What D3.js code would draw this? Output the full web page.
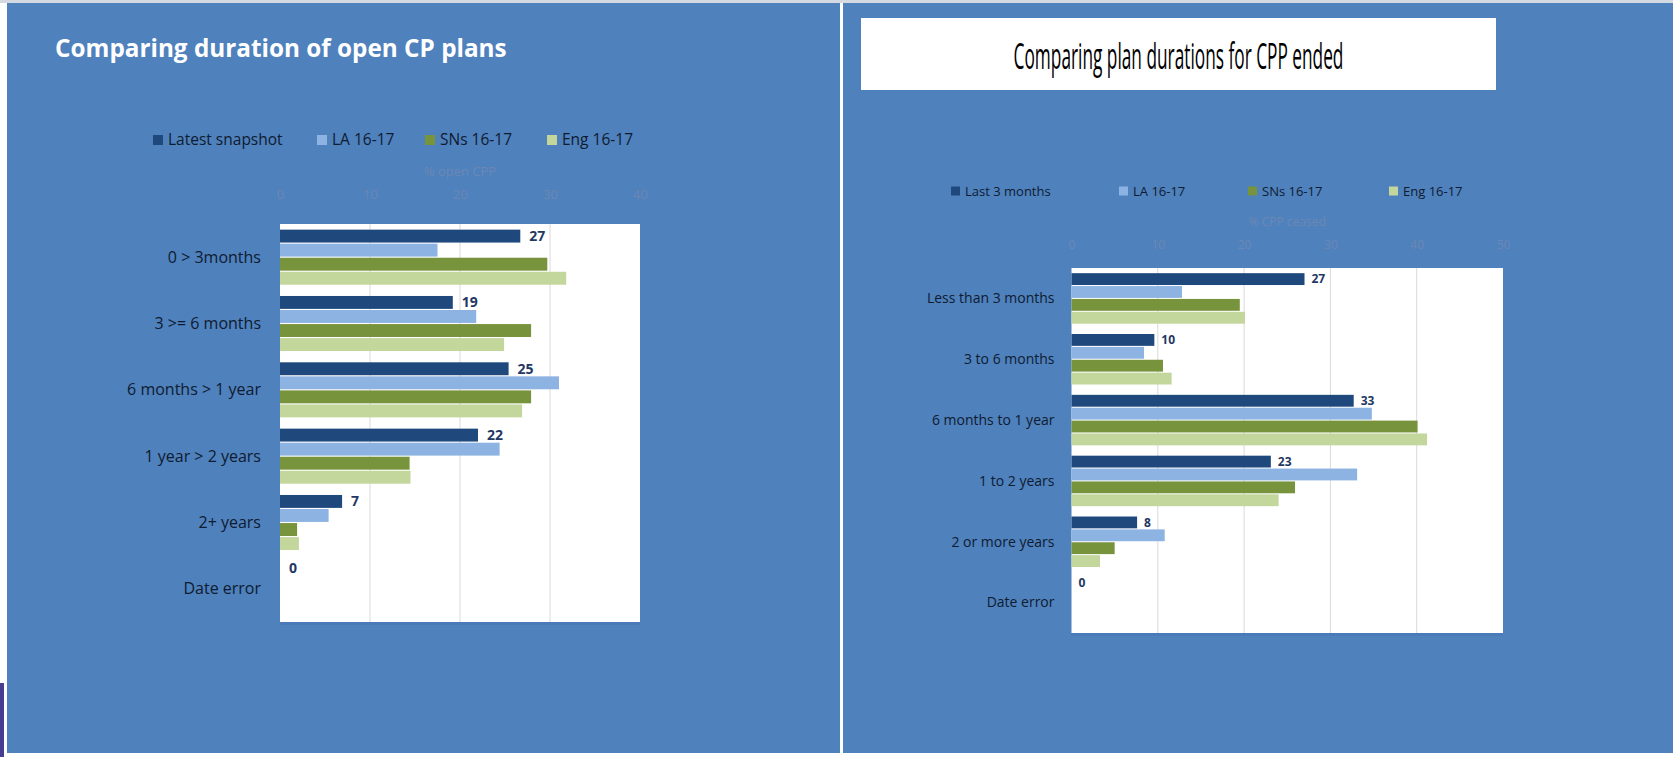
<!DOCTYPE html>
<html>
<head>
<meta charset="utf-8">
<script src="https://cdn.jsdelivr.net/npm/d3@7"></script>
<style>
  html, body { margin: 0; padding: 0; background: #ffffff; }
  svg { display: block; font-family: "Open Sans", "Noto Sans", sans-serif; }
</style>
</head>
<body>
<div id="chart"></div>
<script>
// ---- data ----
const seriesColors = ['#1f497d', '#8db3e2', '#77933c', '#c3d69b'];

// left chart: open CP plans
const openCategories = ['0 > 3months', '3 >= 6 months', '6 months > 1 year', '1 year > 2 years', '2+ years', 'Date error'];
const openSeries = ['Latest snapshot', 'LA 16-17', 'SNs 16-17', 'Eng 16-17'];
const openLatest = [26.7, 19.2, 25.4, 22.0, 6.9, 0];
const openLA = [17.5, 21.8, 31.0, 24.4, 5.4, 0];
const openSNs = [29.7, 27.9, 27.9, 14.4, 1.9, 0];
const openEng = [31.8, 24.9, 26.9, 14.5, 2.1, 0];
const openTicks = [0, 10, 20, 30, 40];

// right chart: CPP ended
const endedCategories = ['Less than 3 months', '3 to 6 months', '6 months to 1 year', '1 to 2 years', '2 or more years', 'Date error'];
const endedSeries = ['Last 3 months', 'LA 16-17', 'SNs 16-17', 'Eng 16-17'];
const endedLast3 = [27.0, 9.6, 32.7, 23.1, 7.6, 0];
const endedLA = [12.8, 8.4, 34.8, 33.1, 10.8, 0];
const endedSNs = [19.5, 10.6, 40.1, 25.9, 5.0, 0];
const endedEng = [20.1, 11.6, 41.2, 24.0, 3.3, 0];
const endedTicks = [0, 10, 20, 30, 40, 50];

const W = 1673, H = 757;
const panelBlue = '#4f81bd';
const faint = '#6c87b3';
const darkText = '#0e1b30';

const svg = d3.select('#chart').append('svg')
    .attr('width', W)
    .attr('height', H)
    .attr('viewBox', `0 0 ${W} ${H}`);

// page background, panels, divider
svg.append('rect').attr('x', 0).attr('y', 0).attr('width', W).attr('height', H).attr('fill', '#ffffff');
svg.append('rect').attr('x', 0).attr('y', 0).attr('width', W).attr('height', 3).attr('fill', '#d5dae2');
svg.append('rect').attr('x', 7).attr('y', 3).attr('width', 833).attr('height', 750).attr('fill', panelBlue);
svg.append('rect').attr('x', 843).attr('y', 3).attr('width', W - 843).attr('height', 750).attr('fill', panelBlue);
svg.append('rect').attr('x', 0).attr('y', 683).attr('width', 4).attr('height', 74).attr('fill', '#463e8e');

// squeeze a text horizontally to a target width (the originals use narrow fonts)
function squeeze(sel, cx, cy, targetWidth, anchor) {
    const natural = sel.node().getComputedTextLength();
    const sx = Math.min(1, targetWidth / natural);
    sel.attr('text-anchor', anchor)
        .attr('transform', `translate(${cx}, ${cy}) scale(${sx}, 1)`);
}

// left title
const leftTitle = svg.append('text')
    .attr('fill', '#ffffff')
    .style('font-size', '24.5px')
    .style('font-weight', 'bold')
    .text('Comparing duration of open CP plans');
squeeze(leftTitle, 55, 57, 452, 'start');

// right title box
svg.append('rect').attr('x', 861).attr('y', 18).attr('width', 635).attr('height', 72).attr('fill', '#ffffff');
const rightTitle = svg.append('text')
    .attr('fill', '#000000')
    .style('font-size', '36px')
    .text('Comparing plan durations for CPP ended');
squeeze(rightTitle, 1178.5, 69, 330, 'middle');

/**
 * Draw one grouped horizontal bar chart
 */
function drawChart(cfg) {
    const g = svg.append('g');

    const x = d3.scaleLinear()
        .domain([cfg.ticks[0], cfg.ticks[cfg.ticks.length - 1]])
        .range([cfg.left, cfg.right]);

    const y = d3.scaleBand()
        .domain(cfg.categories)
        .range([cfg.top, cfg.bottom])
        .paddingInner(0.17)
        .paddingOuter(0.085);

    const ySeries = d3.scaleBand()
        .domain(cfg.series)
        .range([0, y.bandwidth()])
        .paddingInner(0.08);

    // plot area
    g.append('rect')
        .attr('x', cfg.left)
        .attr('y', cfg.top)
        .attr('width', cfg.right - cfg.left)
        .attr('height', cfg.bottom - cfg.top)
        .attr('fill', '#ffffff');
    g.append('rect')
        .attr('x', cfg.left)
        .attr('y', cfg.bottom)
        .attr('width', cfg.right - cfg.left)
        .attr('height', 3)
        .attr('fill', '#4a7bb8');

    // gridlines
    g.selectAll('.grid')
        .data(cfg.ticks.slice(1, -1))
        .enter()
        .append('line')
        .attr('x1', d => x(d))
        .attr('x2', d => x(d))
        .attr('y1', cfg.top)
        .attr('y2', cfg.bottom)
        .attr('stroke', '#d9d9d9')
        .attr('stroke-width', 1);

    // top axis (faint, as in the original)
    const axis = d3.axisTop(x).tickValues(cfg.ticks).tickSize(0).tickPadding(0);
    const axisG = g.append('g')
        .attr('transform', `translate(0, ${cfg.tickY})`)
        .call(axis);
    axisG.select('.domain').remove();
    axisG.selectAll('text')
        .attr('fill', faint)
        .attr('dy', '0.35em')
        .style('font-size', cfg.tickSize + 'px')
        .style('font-family', '"Open Sans", sans-serif');

    g.append('text')
        .attr('x', (cfg.left + cfg.right) / 2)
        .attr('y', cfg.titleY)
        .attr('dy', '0.35em')
        .attr('text-anchor', 'middle')
        .attr('fill', faint)
        .style('font-size', cfg.tickSize + 'px')
        .text(cfg.axisTitle);

    // category labels
    g.selectAll('.cat')
        .data(cfg.categories)
        .enter()
        .append('text')
        .attr('x', cfg.left - cfg.labelGap)
        .attr('y', d => y(d) + y.bandwidth() / 2)
        .attr('dy', '0.35em')
        .attr('text-anchor', 'end')
        .attr('fill', darkText)
        .style('font-size', cfg.catSize + 'px')
        .text(d => d);

    // bars
    cfg.values.forEach((vals, si) => {
        const s = cfg.series[si];
        g.selectAll('.bar-' + si)
            .data(vals)
            .enter()
            .append('rect')
            .attr('x', x(0))
            .attr('y', (d, i) => y(cfg.categories[i]) + ySeries(s))
            .attr('width', d => x(d) - x(0))
            .attr('height', ySeries.bandwidth())
            .attr('fill', seriesColors[si]);
    });

    // data labels on first series
    const first = cfg.series[0];
    g.selectAll('.lbl')
        .data(cfg.values[0])
        .enter()
        .append('text')
        .attr('x', d => x(d) + cfg.valueGap)
        .attr('y', (d, i) => y(cfg.categories[i]) + ySeries(first) + ySeries.bandwidth() / 2)
        .attr('dy', '0.35em')
        .attr('fill', '#1f3864')
        .style('font-size', cfg.valueSize + 'px')
        .style('font-weight', 'bold')
        .text(d => Math.round(d));

    // legend
    const leg = g.selectAll('.leg')
        .data(cfg.series)
        .enter()
        .append('g')
        .attr('transform', (d, i) => `translate(${cfg.legendX[i]}, ${cfg.legendY})`);
    leg.append('rect')
        .attr('x', 0)
        .attr('y', -cfg.markerSize / 2)
        .attr('width', cfg.markerSize)
        .attr('height', cfg.markerSize)
        .attr('fill', (d, i) => seriesColors[i]);
    leg.append('text')
        .attr('x', cfg.markerSize + 5)
        .attr('y', 0)
        .attr('dy', '0.35em')
        .attr('fill', darkText)
        .style('font-size', cfg.legendSize + 'px')
        .text(d => d);
}

drawChart({
    categories: openCategories,
    series: openSeries,
    values: [openLatest, openLA, openSNs, openEng],
    ticks: openTicks,
    axisTitle: '% open CPP',
    left: 280, right: 640, top: 224, bottom: 622,
    tickY: 194, titleY: 171, tickSize: 13,
    catSize: 16, labelGap: 19,
    valueSize: 14, valueGap: 9,
    legendX: [153, 317, 425, 547], legendY: 140,
    markerSize: 10, legendSize: 15.5
});

drawChart({
    categories: endedCategories,
    series: endedSeries,
    values: [endedLast3, endedLA, endedSNs, endedEng],
    ticks: endedTicks,
    axisTitle: '% CPP ceased',
    left: 1071.5, right: 1503, top: 268, bottom: 633,
    tickY: 245, titleY: 222, tickSize: 12,
    catSize: 14, labelGap: 17,
    valueSize: 12, valueGap: 7,
    legendX: [951, 1119, 1248, 1389], legendY: 191,
    markerSize: 9, legendSize: 13
});
</script>
</body>
</html>
